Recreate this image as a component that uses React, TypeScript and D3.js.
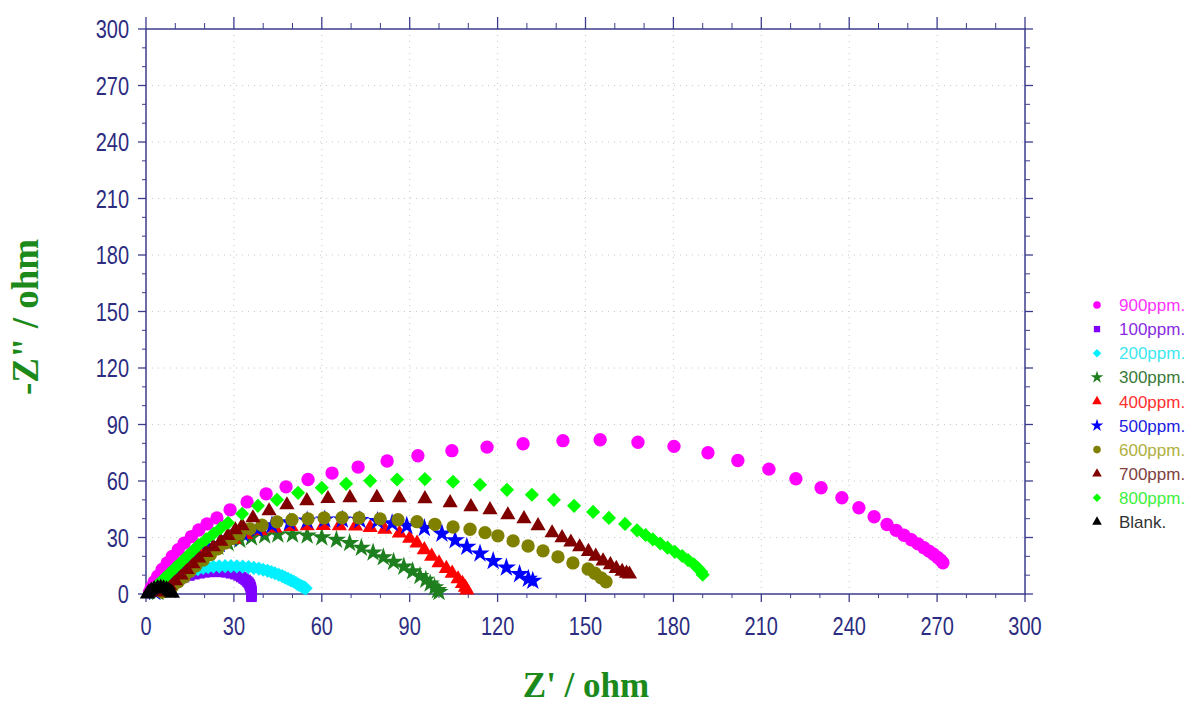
import React from 'react';
import * as d3 from 'd3';

const W = 1191;
const H = 706;

const xTicks = [0, 30, 60, 90, 120, 150, 180, 210, 240, 270, 300];
const yTicks = [0, 30, 60, 90, 120, 150, 180, 210, 240, 270, 300];
const minorStep = 10;

const seriesNames = ['900ppm.', '100ppm.', '200ppm.', '300ppm.', '400ppm.', '500ppm.', '600ppm.', '700ppm.', '800ppm.', 'Blank.'];
const seriesColors = ['#ff00ff', '#7f00ff', '#00f0ff', '#1e7f1e', '#ff0000', '#0000ff', '#808000', '#800000', '#00ff00', '#000000'];
const legendTextColors = ['#ff33ff', '#8a2be2', '#40e8f0', '#3a7a3a', '#ff3030', '#2020e0', '#b0b040', '#804040', '#40f040', '#333333'];
const seriesShapes = ['circle', 'square', 'diamond', 'star', 'triangle', 'star', 'circle', 'triangle', 'diamond', 'triangle'];

const s900: [number, number][] = [
  [1.2, 1], [1.8, 3.5], [2.8, 6.5], [4, 9.5], [5.5, 13], [7.2, 16.5], [9, 20], [11, 23.5], [13, 27], [15.5, 30.5],
  [18, 34], [20.8, 37.2], [24.2, 40.4], [28.7, 44.7], [34.5, 48.9], [41, 53.2], [47.8, 56.9], [55.3, 60.8], [63.5, 64.2],
  [72.4, 67.4], [82.3, 70.6], [92.8, 73.4], [104.4, 76.1], [116.4, 78], [128.7, 79.8], [142.3, 81.4], [155, 81.9],
  [167.9, 80.6], [180.2, 78.4], [191.8, 75], [202, 70.9], [212.6, 66.3], [221.8, 61.2], [230.4, 56.4], [237.5, 51.1],
  [243.3, 45.8], [248.5, 41], [252.9, 36.9], [256, 33.8], [258.7, 31.2], [261.2, 28.8], [263.5, 26.6], [265.5, 24.6],
  [267.2, 22.8], [268.8, 21.1], [270.2, 19.4], [271.3, 17.9], [272, 16.6],
];
const s100: [number, number][] = [
  [10, 7], [11.5, 8], [13, 9], [14.8, 9.8], [16.5, 10.5], [18.3, 11], [20, 11.5], [22, 11.7], [24, 11.8], [25.8, 11.7],
  [27.5, 11.5], [29, 11], [30.5, 10.5], [31.6, 9.8], [32.5, 9], [33.3, 8.2], [34, 7.5], [34.5, 6.7], [35, 6], [35.3, 5.2],
  [35.5, 4.5], [35.7, 3.7], [35.8, 3], [35.9, 2.2], [36, 1.5], [36, 0.7], [36, 0], [36, -0.8], [36, -1.5],
];
const s200: [number, number][] = [
  [7, 3], [7.8, 4.2], [8.5, 5.5], [9.5, 6.8], [10.5, 8], [11.7, 9.3], [13, 10.5], [14.5, 11.5], [16, 12.5], [17.7, 13.2],
  [19.5, 13.8], [21.2, 14.2], [23, 14.5], [25, 14.7], [27, 14.8], [29, 14.8], [31, 14.7], [33, 14.5], [35, 14.3],
  [36.8, 13.9], [38.5, 13.5], [40, 12.9], [41.5, 12.3], [42.8, 11.7], [44, 11], [45.3, 10.2], [46.5, 9.5], [47.5, 8.7],
  [48.5, 8], [49.5, 7.2], [50.5, 6.5], [51.3, 5.7], [52, 5], [52.8, 4.4], [53.5, 3.8], [54, 3.4], [54.5, 3],
];
const s300: [number, number][] = [
  [4, 1], [5.5, 3], [7.5, 6], [10, 9.5], [12.5, 13], [15, 16], [18, 19.5], [21, 22.5], [24.5, 25], [28, 27],
  [32, 28.8], [36, 30], [40.5, 31], [45, 31.5], [50, 31.5], [55, 31], [60, 30], [65, 28.8], [69.5, 27], [73.5, 24.5],
  [77.5, 22], [81, 19.5], [84.5, 17], [88, 14.5], [91, 12], [93.5, 9.5], [95.5, 7.5], [97, 5.5], [98.5, 3.5],
  [99.5, 2], [100, 1],
];
const s400: [number, number][] = [
  [4, 1], [5.5, 3], [7.5, 6], [10, 9.5], [13, 13], [16, 16.5], [19, 20], [22.5, 23.5], [26, 26.5], [30, 29],
  [34, 31.5], [39, 33.5], [44, 35], [49.5, 35.8], [55, 36.2], [60.5, 36.3], [66, 36.2], [71.5, 36], [76.5, 35.2],
  [81.5, 34.3], [86.5, 32.3], [90, 29.5], [92.5, 27], [95, 23.5], [97.5, 20], [100, 16.5], [102.5, 13.5], [104.5, 11],
  [106.5, 8], [108, 5.5], [109, 3.5], [109.5, 2],
];
const s500: [number, number][] = [
  [3, 1], [4.5, 3], [6.5, 6], [9, 9.5], [12, 13], [15, 16.5], [18, 20], [21.5, 23.5], [25, 26.5], [29, 29.5],
  [33, 32], [38, 34.5], [43, 36.5], [49, 38], [55, 39], [61, 39.5], [67, 39.5], [73, 39.2], [79, 38.7], [84, 37.5],
  [89, 36.2], [95, 35], [101, 32], [105.5, 28.5], [109.5, 25], [114, 21.5], [118.5, 17.5], [123, 14], [127.5, 10.5],
  [130.5, 8], [132, 7],
];
const s600: [number, number][] = [
  [5.5, 1], [7, 2], [9, 4], [11, 6.5], [13, 9], [15, 12], [17, 15], [19.5, 18], [22, 21], [24.5, 24], [27, 27],
  [29.5, 29.5], [32, 32], [35.5, 34.6], [39.6, 36.5], [44.7, 38.3], [49.8, 39.4], [55.3, 39.9], [60.8, 40.4],
  [66.9, 40.5], [72.7, 40.4], [79.9, 39.9], [86, 39.4], [92.5, 38.4], [98.6, 37], [104.8, 35.6], [110.6, 34.4],
  [115.7, 32.6], [120.1, 30.9], [125.3, 28.2], [130.4, 25.5], [135.5, 22.9], [140.6, 19.7], [145.7, 16.5],
  [150.9, 13.3], [153.2, 11], [155.3, 8.6], [157, 6.5],
];
const s700: [number, number][] = [
  [5, 1], [6.5, 2.5], [8, 4.5], [10, 7], [12, 10], [14, 13], [16, 16], [18, 19], [20.5, 22], [23, 25], [25.5, 28],
  [28, 31], [30.5, 34], [32.8, 36.2], [36.5, 40.4], [42, 44.1], [48.1, 47.3], [54.9, 49.5], [62.1, 50.6], [69.6, 51.1],
  [78.8, 51.2], [86.5, 51], [95.2, 50.5], [103.8, 48.4], [110.9, 46.3], [117.4, 44.7], [123.5, 42], [129, 39.9],
  [133.8, 36.2], [138.6, 32.4], [142, 29.8], [145, 27.5], [148, 25], [151, 22.5], [153.5, 20], [156, 17.5],
  [158.5, 15.5], [160.5, 13.5], [162.5, 12], [164, 11], [165, 10.5],
];
const s800: [number, number][] = [
  [1.5, 1], [2.5, 2.5], [4, 5], [6, 8], [8, 11], [10, 14], [12, 17], [14, 20], [16, 23], [18, 26], [20.5, 29],
  [23, 32], [25.5, 35], [28, 37.8], [32.8, 42.6], [38.2, 46.8], [44.7, 50], [51.9, 53.7], [60, 56.4], [68.3, 58.5],
  [76.5, 60.1], [85.7, 60.8], [95.2, 61], [104.8, 59.6], [114, 58], [123.2, 55.3], [131.7, 52.7], [139.2, 50],
  [146.1, 46.8], [152.6, 43.6], [158, 40.4], [163.5, 37.2], [167.6, 33.8], [170.5, 31.3], [173, 29], [175.5, 26.8],
  [178, 24.6], [180.5, 22.4], [183, 20.2], [185, 18], [187, 15.8], [188.5, 13.6], [189.5, 11.8], [190, 10.2],
];
const sBlank: [number, number][] = [
  [0.5, 0], [1, 1], [1.8, 2], [2.8, 2.8], [4, 3.3], [5, 3.4], [6, 3.2], [7, 2.6], [7.8, 1.8], [8.5, 1], [9, 0.3],
];

const seriesData = [s900, s100, s200, s300, s400, s500, s600, s700, s800, sBlank];

const x = d3.scaleLinear().domain([0, 300]).range([146, 1025]);
const y = d3.scaleLinear().domain([0, 300]).range([594, 29]);

const markerSize: Record<string, number> = { circle: 140, square: 110, diamond: 100, star: 115, triangle: 100 };
const legendSize: Record<string, number> = { circle: 45, square: 40, diamond: 36, star: 50, triangle: 40 };

function symPath(shape: string, size: number): string {
  const t = shape === 'circle' ? d3.symbolCircle : shape === 'star' ? d3.symbolStar : shape === 'triangle' ? d3.symbolTriangle : d3.symbolSquare;
  return d3.symbol().type(t).size(size)() as string;
}

const AXIS = '#3c3c8c';
const TICKTXT = '#2c2c80';
const LABEL = '#1b8a1b';

export default function App() {
  const minorX = d3.range(0, 301, minorStep).filter((v) => v % 30 !== 0);
  const minorY = d3.range(0, 301, minorStep).filter((v) => v % 30 !== 0);
  const [xa, xb] = x.range();
  const [ya, yb] = y.range();
  return (
    <svg width={W} height={H} style={{ position: 'absolute', left: 0, top: 0, background: '#fff' }}>
      <rect x={0} y={0} width={W} height={H} fill="#fff" />
      {/* grid */}
      {xTicks.slice(1, -1).map((v) => (
        <line key={'gx' + v} x1={x(v)} x2={x(v)} y1={yb} y2={ya} stroke="#c8c8c8" strokeDasharray="1,5" />
      ))}
      {yTicks.slice(1, -1).map((v) => (
        <line key={'gy' + v} x1={xa} x2={xb} y1={y(v)} y2={y(v)} stroke="#c8c8c8" strokeDasharray="1,5" />
      ))}
      {/* frame */}
      <rect x={xa} y={yb} width={xb - xa} height={ya - yb} fill="none" stroke={AXIS} strokeWidth={1.5} />
      {/* ticks */}
      {xTicks.map((v) => (
        <g key={'tx' + v}>
          <line x1={x(v)} x2={x(v)} y1={ya} y2={ya + 8} stroke={AXIS} strokeWidth={1.3} />
          <line x1={x(v)} x2={x(v)} y1={yb} y2={yb - 12} stroke={AXIS} strokeWidth={1.3} />
        </g>
      ))}
      {minorX.map((v) => (
        <g key={'mx' + v}>
          <line x1={x(v)} x2={x(v)} y1={ya} y2={ya + 4} stroke={AXIS} strokeWidth={1} />
          <line x1={x(v)} x2={x(v)} y1={yb} y2={yb - 6} stroke={AXIS} strokeWidth={1} />
        </g>
      ))}
      {yTicks.map((v) => (
        <g key={'ty' + v}>
          <line x1={xa - 8} x2={xa} y1={y(v)} y2={y(v)} stroke={AXIS} strokeWidth={1.3} />
          <line x1={xb} x2={xb + 8} y1={y(v)} y2={y(v)} stroke={AXIS} strokeWidth={1.3} />
        </g>
      ))}
      {minorY.map((v) => (
        <g key={'my' + v}>
          <line x1={xa - 4} x2={xa} y1={y(v)} y2={y(v)} stroke={AXIS} strokeWidth={1} />
          <line x1={xb} x2={xb + 5} y1={y(v)} y2={y(v)} stroke={AXIS} strokeWidth={1} />
        </g>
      ))}
      {/* tick labels */}
      {xTicks.map((v) => (
        <g key={'lx' + v} transform={`translate(${x(v)},635)`}>
          <text transform="scale(1,1.27)" textAnchor="middle" fontFamily="'Liberation Sans', Arial, sans-serif" fontSize={20} fill={TICKTXT}>
            {v}
          </text>
        </g>
      ))}
      {yTicks.map((v) => (
        <g key={'ly' + v} transform={`translate(129,${y(v)})`}>
          <text transform="scale(1,1.27)" textAnchor="end" dy="0.36em" fontFamily="'Liberation Sans', Arial, sans-serif" fontSize={20} fill={TICKTXT}>
            {v}
          </text>
        </g>
      ))}
      {/* axis titles */}
      <text x={586} y={697} textAnchor="middle" fontFamily="'Liberation Serif', 'Times New Roman', serif" fontWeight="bold" fontSize={35} fill={LABEL}>
        Z' / ohm
      </text>
      <text transform="translate(38,317) rotate(-90)" textAnchor="middle" fontFamily="'Liberation Serif', 'Times New Roman', serif" fontWeight="bold" fontSize={37} fill={LABEL}>
        -Z" / ohm
      </text>
      {/* data */}
      {seriesData.map((data, i) => {
        const shape = seriesShapes[i];
        const p = symPath(shape, markerSize[shape]);
        const rot = shape === 'diamond' ? ' rotate(45)' : '';
        return (
          <g key={'s' + i} fill={seriesColors[i]}>
            {data.map((d, j) => (
              <path key={j} d={p} transform={`translate(${x(d[0])},${y(d[1])})${rot}`} />
            ))}
          </g>
        );
      })}
      {/* legend */}
      {seriesNames.map((name, i) => {
        const shape = seriesShapes[i];
        const p = symPath(shape, legendSize[shape]);
        const rot = shape === 'diamond' ? ' rotate(45)' : '';
        const ly = 305 + i * 24.1;
        return (
          <g key={'lg' + i}>
            <path d={p} transform={`translate(1097,${ly})${rot}`} fill={seriesColors[i]} />
            <text x={1119} y={ly} dy="0.36em" fontFamily="'Liberation Sans', Arial, sans-serif" fontSize={17} fill={legendTextColors[i]}>
              {name}
            </text>
          </g>
        );
      })}
    </svg>
  );
}
